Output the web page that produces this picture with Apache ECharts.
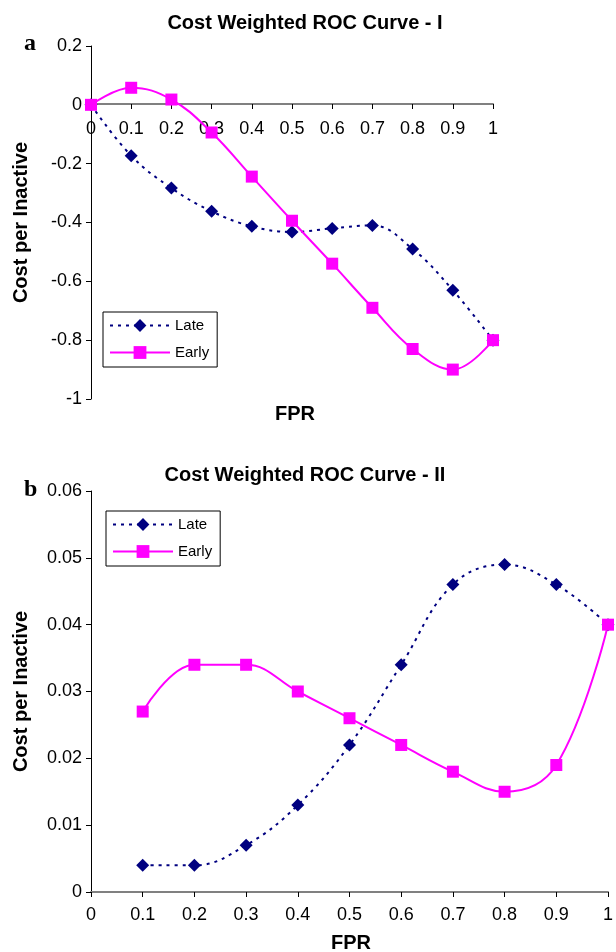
<!DOCTYPE html>
<html>
<head>
<meta charset="utf-8">
<script src="https://cdn.jsdelivr.net/npm/echarts@6/dist/echarts.min.js"></script>
<style>
  html, body { margin: 0; padding: 0; background: #fff; }
  #chart { width: 616px; height: 952px; }
</style>
</head>
<body>
<div id="chart"></div>
<script>
// panel a
const fprTop = [0, 0.1, 0.2, 0.3, 0.4, 0.5, 0.6, 0.7, 0.8, 0.9, 1];
const lateTop = [0, -0.173, -0.283, -0.362, -0.413, -0.432, -0.42, -0.41, -0.49, -0.63, -0.8];
const earlyTop = [0, 0.058, 0.018, -0.094, -0.244, -0.394, -0.54, -0.69, -0.83, -0.9, -0.8];

// panel b
const fprBottom = [0.1, 0.2, 0.3, 0.4, 0.5, 0.6, 0.7, 0.8, 0.9, 1];
const lateBottom = [0.004, 0.004, 0.007, 0.013, 0.022, 0.034, 0.046, 0.049, 0.046, 0.04];
const earlyBottom = [0.027, 0.034, 0.034, 0.030, 0.026, 0.022, 0.018, 0.015, 0.019, 0.040];

const seriesNames = ['Late', 'Early'];
const FONT = 'Liberation Sans';

const pairs = (xs, ys) => xs.map((x, i) => [x, ys[i]]);

const lateStyle = {
    symbol: 'diamond',
    symbolSize: [13, 13],
    itemStyle: { color: '#000080' },
    lineStyle: { color: '#000080', width: 2, type: [3, 5] }
};
const earlyStyle = {
    symbol: 'rect',
    symbolSize: [12, 12],
    itemStyle: { color: '#ff00ff' },
    lineStyle: { color: '#ff00ff', width: 2, type: 'solid' }
};

// top panel's x axis sits on y = 0, so it is shifted up by an offset
function xAxisFor(gridIndex, offset, margin) {
    return {
        type: 'value',
        gridIndex: gridIndex,
        min: 0, max: 1, interval: 0.1,
        offset: offset,
        splitLine: { show: false },
        axisLine: { onZero: false, lineStyle: { color: '#808080', width: 2 } },
        axisTick: { show: true, length: 5, lineStyle: { color: '#000' } },
        axisLabel: { color: '#000', fontFamily: FONT, fontSize: 18, margin: margin }
    };
}

function yAxisFor(gridIndex, min, max, interval) {
    return {
        type: 'value',
        gridIndex: gridIndex,
        min: min, max: max, interval: interval,
        splitLine: { show: false },
        axisLine: { show: true, onZero: false, lineStyle: { color: '#000', width: 1 } },
        axisTick: { show: true, length: 5, lineStyle: { color: '#000' } },
        axisLabel: { color: '#000', fontFamily: FONT, fontSize: 18, margin: 9 },
        name: 'Cost per Inactive',
        nameLocation: 'middle',
        nameRotate: 90,
        nameGap: 60,
        nameTextStyle: { color: '#000', fontFamily: FONT, fontSize: 20, fontWeight: 'bold' }
    };
}

function legendAt(left, top) {
    return {
        data: seriesNames,
        orient: 'vertical',
        left: left, top: top,
        padding: [6, 8, 7, 6],
        itemWidth: 60,
        itemHeight: 16,
        itemGap: 12,
        borderColor: '#000',
        borderWidth: 1,
        borderRadius: 0,
        backgroundColor: '#fff',
        textStyle: { color: '#000', fontFamily: FONT, fontSize: 15 }
    };
}

const titleStyle = { color: '#000', fontFamily: FONT, fontSize: 20, fontWeight: 'bold' };
const letterStyle = { color: '#000', fontFamily: 'Liberation Serif', fontSize: 24, fontWeight: 'bold' };

const chart = echarts.init(document.getElementById('chart'), null, { renderer: 'canvas' });

chart.setOption({
    animation: false,
    backgroundColor: '#fff',
    title: [
        { text: 'Cost Weighted ROC Curve - I', left: 305, top: 13, textAlign: 'center', padding: 0, textStyle: titleStyle },
        { text: 'a', left: 24, top: 32, padding: 0, textStyle: letterStyle },
        { text: 'FPR', left: 295, top: 404, textAlign: 'center', padding: 0, textStyle: titleStyle },
        { text: 'Cost Weighted ROC Curve - II', left: 305, top: 465, textAlign: 'center', padding: 0, textStyle: titleStyle },
        { text: 'b', left: 24, top: 478, padding: 0, textStyle: letterStyle },
        { text: 'FPR', left: 351, top: 933, textAlign: 'center', padding: 0, textStyle: titleStyle }
    ],
    legend: [legendAt(103, 312), legendAt(106, 511)],
    grid: [
        { left: 91, top: 46, width: 402, height: 353 },
        { left: 91, top: 491, width: 519, height: 401 }
    ],
    xAxis: [xAxisFor(0, -295, 16), xAxisFor(1, 0, 14)],
    yAxis: [yAxisFor(0, -1, 0.2, 0.2), yAxisFor(1, 0, 0.06, 0.01)],
    series: [
        Object.assign({ name: 'Late', type: 'line', xAxisIndex: 0, yAxisIndex: 0, smooth: 0.4,
            data: pairs(fprTop, lateTop) }, lateStyle),
        Object.assign({ name: 'Early', type: 'line', xAxisIndex: 0, yAxisIndex: 0, smooth: 0.4,
            data: pairs(fprTop, earlyTop) }, earlyStyle),
        Object.assign({ name: 'Late', type: 'line', xAxisIndex: 1, yAxisIndex: 1, smooth: 0.4,
            data: pairs(fprBottom, lateBottom) }, lateStyle),
        Object.assign({ name: 'Early', type: 'line', xAxisIndex: 1, yAxisIndex: 1, smooth: 0.4,
            data: pairs(fprBottom, earlyBottom) }, earlyStyle)
    ]
});
</script>
</body>
</html>
